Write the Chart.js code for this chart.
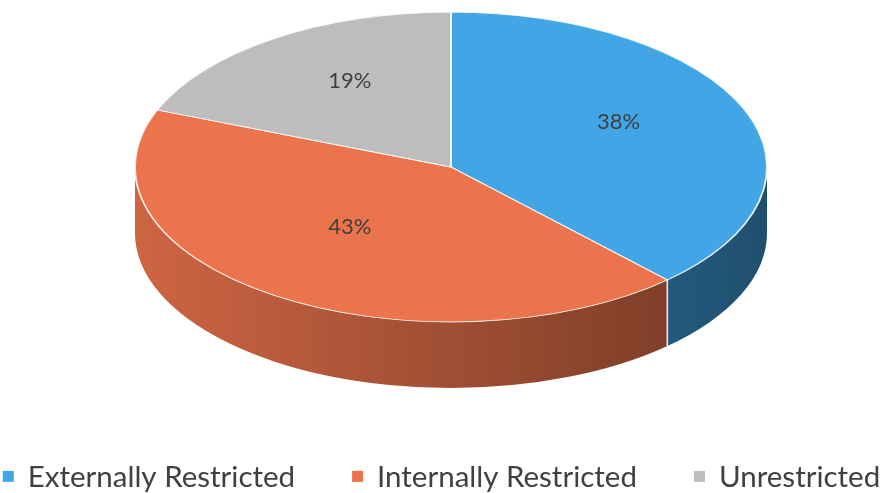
<!DOCTYPE html>
<html><head><meta charset="utf-8">
<script src="https://cdn.jsdelivr.net/npm/chart.js@4.4.1/dist/chart.umd.min.js"></script>
<style>html,body{margin:0;padding:0;background:#fff;}#wrap{width:883px;height:493px;position:relative;}</style>
</head><body><div id="wrap"><canvas id="c"></canvas></div>
<script>
// ---- data ----
const categories = ['Externally Restricted', 'Internally Restricted', 'Unrestricted'];
const shares = [38, 43, 19];
const sliceColors = ['#42a5e6', '#ec744c', '#bdbdbd'];

// ---- styling / layout ----
const RX = 316, RY = 155, DEPTH = 66;
const FONT = 'Lato, "Open Sans", sans-serif';
const LABEL_SIZE = 22, LABEL_R = 0.57, LABEL_LIFT = 13;
const LEGEND_SIZE = 29.5, BOX = 11, BOX_GAP = 14, ITEM_GAP = 57, LEGEND_BASE = 487;

const total = shares.reduce((a, b) => a + b, 0);
const pctLabels = shares.map(v => Math.round(v / total * 100) + '%');

const pie3d = {
  id: 'pie3d',
  beforeDatasetsDraw(chart) {
    const arcs = chart.getDatasetMeta(0).data;
    const ctx = chart.ctx;
    ctx.save();
    if (!arcs.length) return;
    const {x, y, outerRadius: r} = arcs[0];
    const sx = RX / r, sy = RY / r;
    ctx.translate(x, y); ctx.scale(sx, sy); ctx.translate(-x, -y);
    const dc = DEPTH / sy;
    const grad = ctx.createLinearGradient(x - r, 0, x + r, 0);
    grad.addColorStop(0, 'rgba(0,0,0,0.13)');
    grad.addColorStop(1, 'rgba(0,0,0,0.52)');
    arcs.forEach((arc, i) => {
      const s = arc.startAngle, e = arc.endAngle;
      for (let k = -1; k <= 1; k++) {
        const a = Math.max(s, 2 * Math.PI * k), b = Math.min(e, 2 * Math.PI * k + Math.PI);
        if (b <= a) continue;
        ctx.beginPath();
        ctx.arc(x, y, r, a, b);
        ctx.arc(x, y + dc, r, b, a, true);
        ctx.closePath();
        ctx.fillStyle = sliceColors[i];
        ctx.fill();
        ctx.fillStyle = grad;
        ctx.fill();
      }
    });
    ctx.strokeStyle = 'rgba(255,255,255,0.85)';
    ctx.lineWidth = 1.6 / sx;
    arcs.forEach(arc => {
      const s = arc.startAngle;
      if (Math.sin(s) > 0.05) {
        ctx.beginPath();
        ctx.moveTo(x + r * Math.cos(s), y + r * Math.sin(s));
        ctx.lineTo(x + r * Math.cos(s), y + r * Math.sin(s) + dc);
        ctx.stroke();
      }
    });
  },
  afterDatasetsDraw(chart) {
    const ctx = chart.ctx;
    ctx.restore();
    const arcs = chart.getDatasetMeta(0).data;
    ctx.save();
    ctx.font = LABEL_SIZE + 'px ' + FONT;
    ctx.fillStyle = '#404040';
    ctx.textAlign = 'center';
    ctx.textBaseline = 'middle';
    arcs.forEach((arc, i) => {
      const mid = (arc.startAngle + arc.endAngle) / 2;
      const px = arc.x + RX * LABEL_R * Math.cos(mid);
      const py = arc.y + RY * LABEL_R * Math.sin(mid) - LABEL_LIFT;
      ctx.fillText(pctLabels[i], px, py);
    });
    ctx.restore();
  },
  afterDraw(chart) {
    const ctx = chart.ctx;
    ctx.save();
    ctx.font = LEGEND_SIZE + 'px ' + FONT;
    ctx.textBaseline = 'alphabetic';
    ctx.textAlign = 'left';
    const widths = categories.map(t => BOX + BOX_GAP + ctx.measureText(t).width);
    const tot = widths.reduce((a, b) => a + b, 0) + ITEM_GAP * (categories.length - 1);
    let cx = (chart.width - tot) / 2;
    const capMid = LEGEND_BASE - LEGEND_SIZE * 0.36;
    categories.forEach((t, i) => {
      ctx.fillStyle = sliceColors[i];
      ctx.fillRect(cx, capMid - BOX / 2, BOX, BOX);
      ctx.fillStyle = '#404040';
      ctx.fillText(t, cx + BOX + BOX_GAP, LEGEND_BASE);
      cx += widths[i] + ITEM_GAP;
    });
    ctx.restore();
  }
};

new Chart(document.getElementById('c'), {
  type: 'pie',
  data: {
    labels: categories,
    datasets: [{
      data: shares,
      backgroundColor: sliceColors,
      borderColor: 'rgba(255,255,255,0.85)',
      borderWidth: 1,
      clip: false
    }]
  },
  options: {
    responsive: true,
    maintainAspectRatio: false,
    devicePixelRatio: 1,
    animation: false,
    layout: {padding: {left: 19, right: 0, top: 0, bottom: 159}},
    plugins: {legend: {display: false}, tooltip: {enabled: false}}
  },
  plugins: [pie3d]
});
</script></body></html>
